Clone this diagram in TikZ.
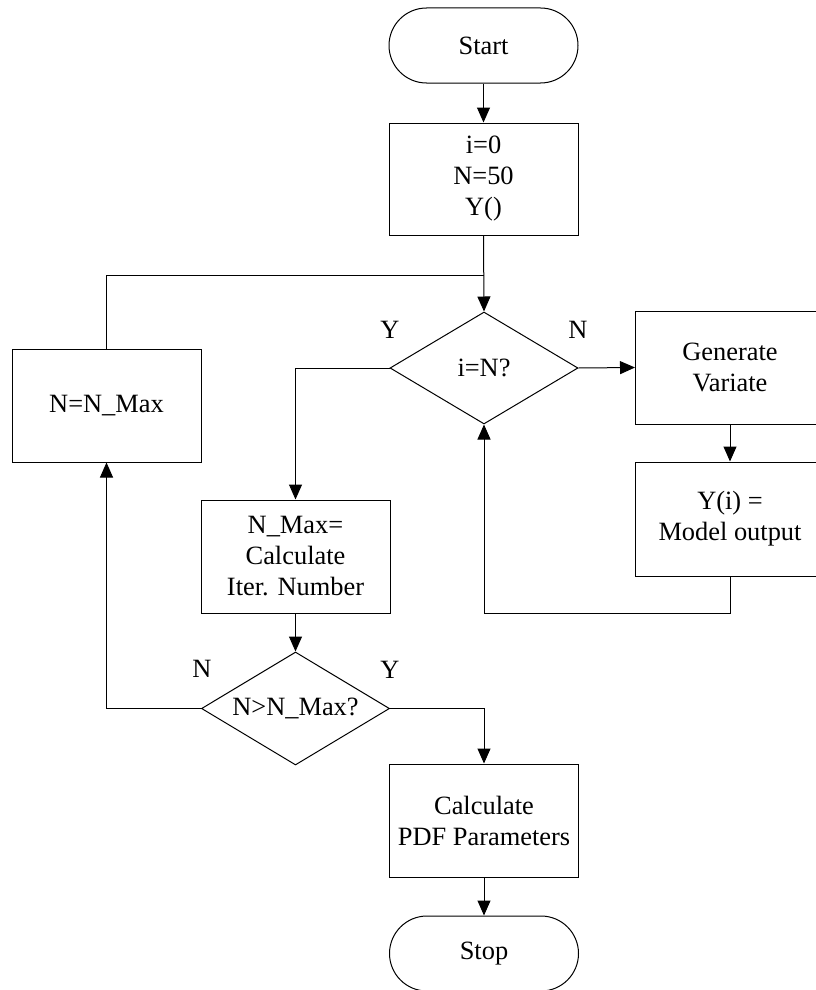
\documentclass[tikz,border=0pt]{standalone}
\usepackage{fontspec}
\setmainfont{Liberation Serif}
\usetikzlibrary{shapes.geometric,arrows.meta}
\begin{document}
\begin{tikzpicture}[x=1pt,y=-1pt,
 every node/.style={font=\fontsize{26.4pt}{31pt}\selectfont, inner sep=0pt},
 proc/.style={draw, line width=1pt, minimum width=189pt, minimum height=113pt, align=center},
 term/.style={draw, line width=1pt, rounded corners=37.5pt, minimum width=189pt, minimum height=75pt},
 dec/.style={draw, diamond, line width=1pt, minimum width=188pt, minimum height=112pt},
 conn/.style={line width=1pt, -{Triangle[length=15pt,width=13pt]}},
 plain/.style={line width=1pt}]
\useasboundingbox (0,0) rectangle (815,990);
\node[term] (start) at (483.5,45.5) {Start};
\node[proc, minimum height=112pt] (init) at (483.5,179) {i=0\\N=50\\Y()};
\node[dec] (d1) at (484,368) {};
\node (d1t) at (d1.center) {i=N?};
\node[proc] (gen) at (730,367.5) {Generate\\Variate};
\node[proc, minimum height=114pt] (model) at (730,519) {Y(i) =\\Model output};
\node[proc] (nmax) at (295.5,556.5) {N\_Max=\\Calculate\\Iter. Number};
\node[dec, minimum height=113pt] (d2) at (295.5,708.5) {};
\node (d2t) at (d2.center) {N>N\_Max?};
\node[proc] (setn) at (106.5,405.5) {N=N\_Max};
\node[proc] (pdf) at (484,820.5) {Calculate\\PDF Parameters};
\node[term] (stop) at (484,953.5) {Stop};
\node (y1) at (390,330) {Y};
\node (n1) at (578,330) {N};
\node (n2) at (202,669) {N};
\node (y2) at (390,670) {Y};
\coordinate (j) at (484,275);
\draw[conn] (start) -- (init);
\draw[conn] (init.south) -- (d1.north);
\draw[plain] (setn.north) |- (j);
\draw[conn] (d1.east) -- (gen.west);
\draw[conn] (gen) -- (model);
\draw[conn] (model.south) -- ++(0,37) -| (d1.south);
\draw[conn] (d1.west) -| (nmax.north);
\draw[conn] (nmax.south) -- (d2.north);
\draw[conn] (d2.west) -| (setn.south);
\draw[conn] (d2.east) -| (pdf.north);
\draw[conn] (pdf) -- (stop);
\end{tikzpicture}
\end{document}
